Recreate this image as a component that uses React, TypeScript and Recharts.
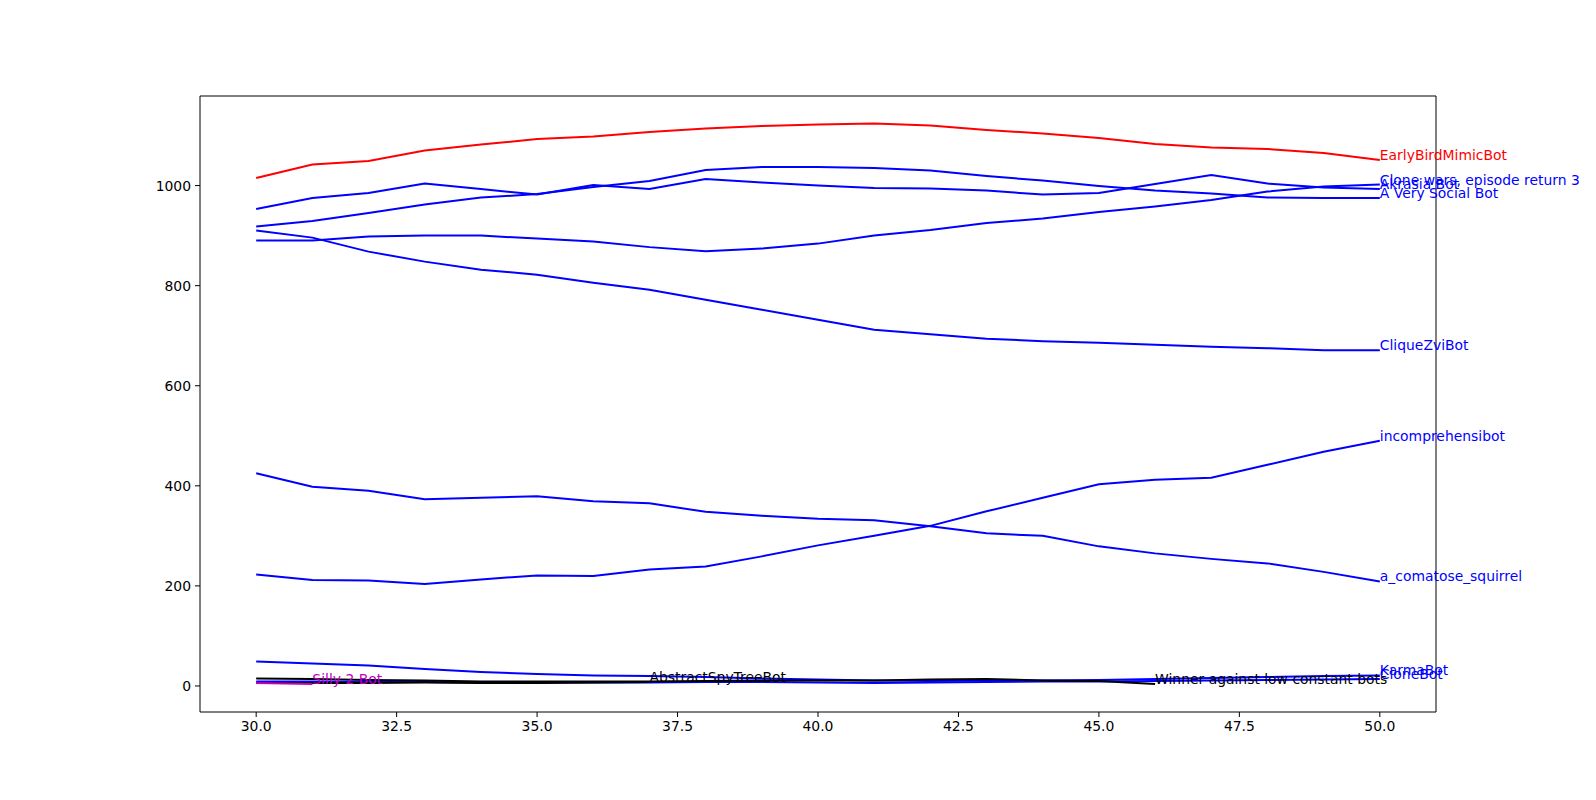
import React from "react";
import { LineChart, Line, XAxis, YAxis, ReferenceLine } from "recharts";

// rounds on the x axis
const rounds = [30, 31, 32, 33, 34, 35, 36, 37, 38, 39, 40, 41, 42, 43, 44, 45, 46, 47, 48, 49, 50];

// scores per bot
const earlyBirdMimicBot = [1015, 1042, 1049, 1070, 1082, 1093, 1098, 1107, 1114, 1119, 1122, 1124, 1120, 1111, 1104, 1095, 1083, 1076, 1073, 1065, 1051];
const cloneWars = [890, 890, 898, 900, 900, 894, 888, 877, 869, 874, 884, 900, 911, 925, 934, 947, 958, 971, 988, 998, 1002];
const akrasiaBot = [953, 975, 985, 1004, 993, 982, 1001, 993, 1013, 1006, 1000, 995, 994, 990, 982, 985, 1003, 1021, 1004, 996, 993];
const aVerySocialBot = [918, 929, 945, 962, 976, 983, 997, 1009, 1031, 1037, 1037, 1035, 1030, 1019, 1010, 999, 990, 984, 976, 975, 975];
const cliqueZviBot = [910, 896, 868, 848, 832, 822, 806, 792, 772, 752, 732, 712, 703, 694, 689, 686, 682, 678, 675, 671, 671];
const incomprehensibot = [223, 212, 211, 204, 213, 221, 220, 233, 239, 259, 281, 300, 320, 349, 376, 403, 412, 416, 442, 468, 490];
const comatoseSquirrel = [425, 398, 390, 373, 376, 379, 369, 365, 348, 340, 334, 331, 319, 305, 300, 279, 265, 254, 245, 228, 209];
const karmaBot = [49, 45, 41, 34, 28, 24, 21, 20, 18, 15, 13, 11, 10, 11, 11, 12, 14, 16, 18, 20, 21];
const cloneBot = [9, 9, 8, 8, 7, 7, 7, 7, 8, 8, 7, 6, 7, 8, 9, 9, 10, 11, 12, 13, 14];
const winnerLowConstant = [15, 14, 12, 11, 9, 9, 9, 9, 10, 11, 11, 11, 13, 14, 11, 10, 4];
const abstractSpyTreeBot = [6, 6, 6, 7, 6, 6, 7, 8];
const silly2Bot = [6, 4];

const xTicks = [30, 32.5, 35, 37.5, 40, 42.5, 45, 47.5, 50];
const yTicks = [0, 200, 400, 600, 800, 1000];

const FONT = "'DejaVu Sans', sans-serif";

const series = [
  { name: "EarlyBirdMimicBot", color: "#ff0000", values: earlyBirdMimicBot },
  { name: "Clone wars, episode return 3", color: "#0000ff", values: cloneWars },
  { name: "Akrasia Bot", color: "#0000ff", values: akrasiaBot },
  { name: "A Very Social Bot", color: "#0000ff", values: aVerySocialBot },
  { name: "CliqueZviBot", color: "#0000ff", values: cliqueZviBot },
  { name: "incomprehensibot", color: "#0000ff", values: incomprehensibot },
  { name: "a_comatose_squirrel", color: "#0000ff", values: comatoseSquirrel },
  { name: "KarmaBot", color: "#0000ff", values: karmaBot },
  { name: "CloneBot", color: "#0000ff", values: cloneBot },
  { name: "Winner against low constant bots", color: "#000000", values: winnerLowConstant },
  { name: "AbstractSpyTreeBot", color: "#000000", values: abstractSpyTreeBot },
  { name: "Silly 2 Bot", color: "#bf00bf", values: silly2Bot },
];

const endLabel = (name: string, color: string, last: number) => (props: any) => {
  if (props.index !== last) return <g />;
  return (
    <text x={props.x} y={props.y} fill={color} fontSize={13.9} fontFamily={FONT} textAnchor="start">
      {name}
    </text>
  );
};

export default function App() {
  const tickStyle = { fill: "#000", fontSize: 13.9, fontFamily: FONT };
  return (
    <div style={{ position: "absolute", left: 0, top: 0, width: 1596, height: 800, background: "#fff" }}>
      <LineChart width={1596} height={800} margin={{ top: 96, right: 160, bottom: 58, left: 140 }}>
        <XAxis
          type="number"
          dataKey="x"
          domain={[29, 51]}
          ticks={xTicks}
          allowDataOverflow
          height={30}
          stroke="#000"
          tickSize={5}
          tickMargin={4}
          tick={tickStyle}
          tickFormatter={(v: number) => v.toFixed(1)}
        />
        <YAxis
          type="number"
          domain={[-52, 1179]}
          ticks={yTicks}
          allowDataOverflow
          width={60}
          stroke="#000"
          tickSize={5}
          tickMargin={4}
          tick={tickStyle}
        />
        <ReferenceLine y={1179} stroke="#000" />
        <ReferenceLine x={51} stroke="#000" />
        {series.map((s) => (
          <Line
            key={s.name}
            name={s.name}
            data={s.values.map((v, i) => ({ x: rounds[i], y: v }))}
            dataKey="y"
            type="linear"
            stroke={s.color}
            strokeWidth={2}
            dot={false}
            activeDot={false}
            isAnimationActive={false}
            label={endLabel(s.name, s.color, s.values.length - 1)}
          />
        ))}
      </LineChart>
    </div>
  );
}
